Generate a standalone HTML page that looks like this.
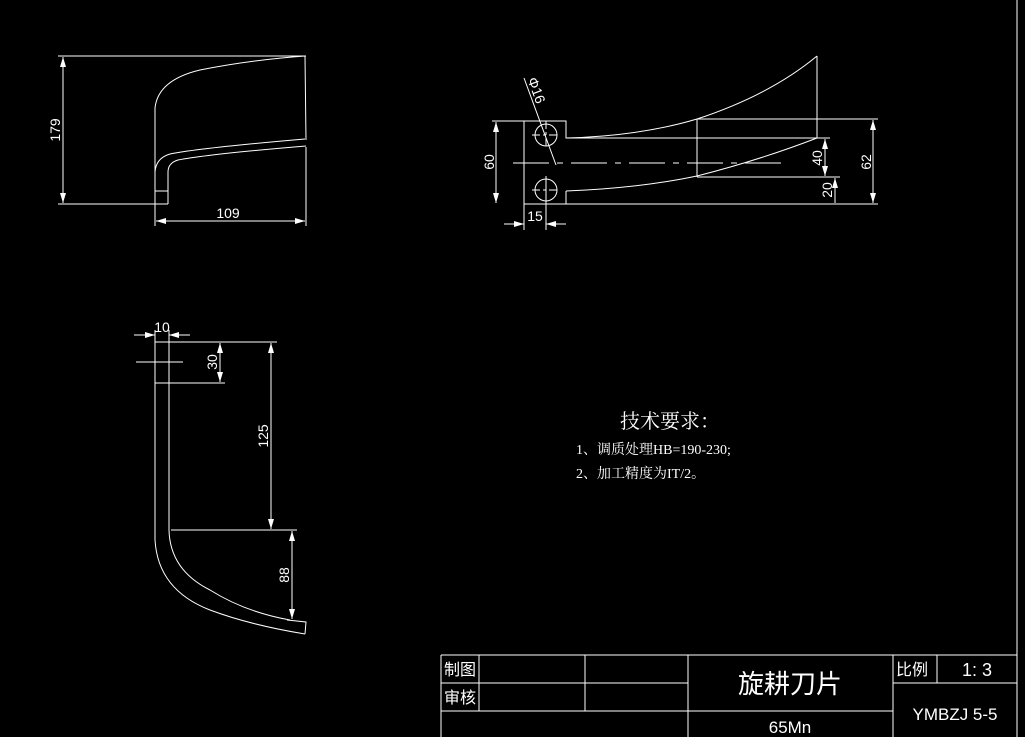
<!DOCTYPE html>
<html><head><meta charset="utf-8"><style>
html,body{margin:0;padding:0;background:#000;}
svg{display:block}
text{fill:#fff;font-family:"Liberation Sans","Noto Sans CJK SC",sans-serif;}
</style></head><body>
<svg width="1025" height="737" viewBox="0 0 1025 737" xmlns="http://www.w3.org/2000/svg">
<defs>
<marker id="a" markerWidth="10" markerHeight="6" refX="10" refY="3" orient="auto-start-reverse" markerUnits="userSpaceOnUse"><path d="M0,0 L10,3 L0,6 Z" fill="#fff"/></marker>
</defs>
<g stroke="#fff" stroke-width="1" fill="none">
<!-- View 1 -->
<line x1="58" y1="56" x2="306" y2="56"/>
<line x1="58" y1="204" x2="168" y2="204"/>
<line x1="63" y1="57" x2="63" y2="203" marker-start="url(#a)" marker-end="url(#a)"/>
<path d="M155,204 L155,108 Q158,80 200,70 Q250,60 305,56 L306,140"/>
<path d="M305,139 Q200,148 170,154 Q156,158 155,172"/>
<path d="M306,146 Q210,154 178,160 Q168,163 168,172 L168,204"/>
<line x1="155" y1="191" x2="168" y2="191"/>
<line x1="155" y1="204" x2="155" y2="226"/>
<line x1="306" y1="147" x2="306" y2="226"/>
<line x1="156" y1="221" x2="305" y2="221" marker-start="url(#a)" marker-end="url(#a)"/>
<!-- View 2 -->
<path d="M524,121 L566,121 L566,138 L817,138"/>
<line x1="524" y1="121" x2="524" y2="204"/>
<line x1="524" y1="204" x2="878" y2="204"/>
<line x1="566" y1="191" x2="566" y2="204"/>
<path d="M566,191 Q640,188 697,176 Q760,160 817,138"/>
<path d="M566,138 Q640,136 697,119 Q770,95 817,56"/>
<line x1="697" y1="119" x2="697" y2="177"/>
<line x1="697" y1="119" x2="878" y2="119"/>
<line x1="817" y1="56" x2="817" y2="138"/>
<line x1="697" y1="177" x2="840" y2="177"/>
<line x1="817" y1="138" x2="830" y2="138"/>
<line x1="513" y1="163" x2="786" y2="163" stroke-dasharray="36,8,6,8"/>
<circle cx="546" cy="135" r="11"/>
<circle cx="546" cy="190" r="11"/>
<line x1="532" y1="135" x2="560" y2="135" stroke-dasharray="8,3,3,3"/>
<line x1="546" y1="121" x2="546" y2="149" stroke-dasharray="8,3,3,3"/>
<line x1="532" y1="190" x2="560" y2="190" stroke-dasharray="8,3,3,3"/>
<line x1="546" y1="176" x2="546" y2="230"/>
<line x1="492" y1="121" x2="524" y2="121"/>
<line x1="496" y1="122" x2="496" y2="203" marker-start="url(#a)" marker-end="url(#a)"/>
<line x1="524" y1="204" x2="524" y2="230"/>
<line x1="504" y1="224" x2="524" y2="224" marker-end="url(#a)"/>
<line x1="546" y1="224" x2="566" y2="224" marker-start="url(#a)"/>
<line x1="524" y1="78" x2="556" y2="165"/>
<line x1="825" y1="139" x2="825" y2="176" marker-start="url(#a)" marker-end="url(#a)"/>
<line x1="835" y1="178" x2="835" y2="203" marker-start="url(#a)"/>
<line x1="873" y1="120" x2="873" y2="203" marker-start="url(#a)" marker-end="url(#a)"/>
<!-- View 3 -->
<path d="M155,342 L155,540 Q158,590 210,610 Q250,625 305,634"/>
<path d="M169,342 L169,530 Q170,570 210,590 Q245,612 290,620"/>
<path d="M287,620 L306,622 L305,634"/>
<line x1="155" y1="342" x2="277" y2="342"/>
<line x1="155" y1="383" x2="225" y2="383"/>
<line x1="171" y1="530" x2="297" y2="530"/>
<line x1="134" y1="335" x2="155" y2="335" marker-end="url(#a)"/>
<line x1="169" y1="335" x2="190" y2="335" marker-start="url(#a)"/>
<line x1="155" y1="330" x2="155" y2="342"/>
<line x1="169" y1="330" x2="169" y2="342"/>
<line x1="136" y1="362" x2="183" y2="362"/>
<line x1="220" y1="343" x2="220" y2="382" marker-start="url(#a)" marker-end="url(#a)"/>
<line x1="271" y1="343" x2="271" y2="529" marker-start="url(#a)" marker-end="url(#a)"/>
<line x1="292" y1="531" x2="292" y2="619" marker-start="url(#a)" marker-end="url(#a)"/>
<!-- Title block -->
<line x1="1017" y1="0" x2="1017" y2="737"/>
<line x1="441" y1="655" x2="1017" y2="655"/>
<line x1="441" y1="655" x2="441" y2="737"/>
<line x1="441" y1="683" x2="688" y2="683"/>
<line x1="893" y1="683" x2="1017" y2="683"/>
<line x1="441" y1="711" x2="893" y2="711"/>
<line x1="479" y1="655" x2="479" y2="711"/>
<line x1="585" y1="655" x2="585" y2="711"/>
<line x1="688" y1="655" x2="688" y2="737"/>
<line x1="893" y1="655" x2="893" y2="737"/>
<line x1="937" y1="655" x2="937" y2="683"/>
</g>
<g font-size="14">
<text x="228" y="218" text-anchor="middle">109</text>
<text transform="translate(60,130) rotate(-90)" text-anchor="middle">179</text>
<text transform="translate(494,162) rotate(-90)" text-anchor="middle">60</text>
<text x="535" y="221" text-anchor="middle">15</text>
<text transform="translate(822,158) rotate(-90)" text-anchor="middle">40</text>
<text transform="translate(832,190) rotate(-90)" text-anchor="middle">20</text>
<text transform="translate(871,162) rotate(-90)" text-anchor="middle">62</text>
<text transform="translate(532,92) rotate(70)" text-anchor="middle">Φ16</text>
<text x="162" y="332" text-anchor="middle">10</text>
<text transform="translate(217,362) rotate(-90)" text-anchor="middle">30</text>
<text transform="translate(268,436) rotate(-90)" text-anchor="middle">125</text>
<text transform="translate(289,575) rotate(-90)" text-anchor="middle">88</text>
</g>
<text x="620" y="428" font-size="20" style="font-family:'Liberation Serif','Noto Serif CJK SC',serif">技术要求：</text>
<text x="576" y="454" font-size="14" style="font-family:'Liberation Serif','Noto Serif CJK SC',serif">1、调质处理HB=190-230;</text>
<text x="576" y="478" font-size="14" style="font-family:'Liberation Serif','Noto Serif CJK SC',serif">2、加工精度为IT/2。</text>
<g font-size="16">
<text x="444" y="675">制图</text>
<text x="444" y="703">审核</text>
<text x="896" y="675">比例</text>
<text x="977" y="676" text-anchor="middle" font-size="18">1: 3</text>
<text x="790" y="693" text-anchor="middle" font-size="26">旋耕刀片</text>
<text x="790" y="733" text-anchor="middle" font-size="17">65Mn</text>
<text x="955" y="720" text-anchor="middle" font-size="17">YMBZJ 5-5</text>
</g>
</svg>
</body></html>
